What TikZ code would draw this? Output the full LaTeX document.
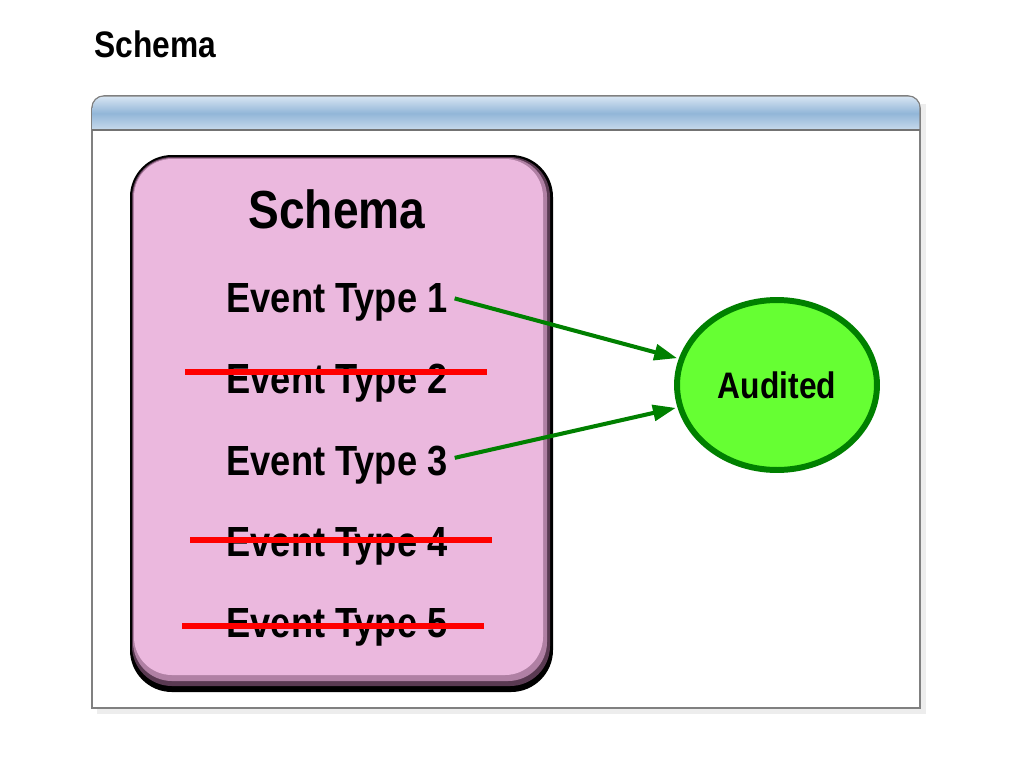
\documentclass[tikz,border=0pt]{standalone}
\usepackage{fontspec}
\setmainfont{Liberation Sans}[FakeStretch=0.86]
\usetikzlibrary{shapes.geometric,arrows.meta}

\definecolor{boxpink}{RGB}{235,184,222}
\definecolor{boxmid}{RGB}{176,128,164}
\definecolor{boxdark}{RGB}{90,58,82}
\definecolor{bartop}{RGB}{214,228,242}
\definecolor{barmid}{RGB}{146,182,216}
\definecolor{barbot}{RGB}{200,218,236}
\definecolor{linkgreen}{RGB}{0,128,0}
\definecolor{audfill}{RGB}{102,255,51}

\begin{document}
\begin{tikzpicture}[x=0.02cm,y=-0.02cm,
  evt/.style={font=\bfseries\fontsize{24}{28}\selectfont, anchor=base, inner sep=0pt},
  strike/.style={draw=red, line width=3.4pt},
  link/.style={draw=linkgreen, line width=2.3pt, shorten <=4pt, shorten >=1pt,
    -{Triangle[length=13pt,width=9pt]}}]
\useasboundingbox (0,0) rectangle (1024,768);

% title
\node [anchor=base west, inner sep=0pt, font=\bfseries\fontsize{21}{25}\selectfont] (title) at (94,57) {Schema};

% window
\fill [black!7] (97,104) rectangle (926,714);
\fill [white, draw=black!50, line width=0.9pt] (92,708) -- (92,108) arc [start angle=180, end angle=270, radius=12]
  -- (908,96) arc [start angle=270, end angle=360, radius=12] -- (920,708) -- cycle;
\shade [top color=bartop, bottom color=barbot, middle color=barmid] (92.6,130) -- (92.6,108) arc [start angle=180, end angle=270, radius=11.4]
  -- (908,96.6) arc [start angle=270, end angle=360, radius=11.4] -- (919.4,130) -- cycle;
\draw [black!55, line width=0.8pt] (92,130) -- (920,130);

% schema box
\fill [black, rounded corners=0.84cm] (130,155) rectangle (553,692);
\fill [boxdark, rounded corners=0.8cm] (132,157) rectangle (550,686);
\fill [boxmid, rounded corners=0.78cm] (133,158) rectangle (547,681);
\fill [boxpink, rounded corners=0.76cm] (134,159) rectangle (543,675);

\node [anchor=base, inner sep=0pt, font=\bfseries\fontsize{30.5}{36}\selectfont] (head) at (337,228) {Schema};
\node [evt] (ev1) at (337,312) {Event Type 1};
\node [evt] (ev2) at (337,393) {Event Type 2};
\node [evt] (ev3) at (337,475) {Event Type 3};
\node [evt] (ev4) at (337,556) {Event Type 4};
\node [evt] (ev5) at (337,637) {Event Type 5};

\draw [strike] (185,372) -- (487,372);
\draw [strike] (190,540) -- (492,540);
\draw [strike] (182,626) -- (484,626);

% audited
\node [ellipse, draw=linkgreen, fill=audfill, line width=3.4pt, minimum width=4cm, minimum height=3.4cm,
  font=\bfseries\fontsize{21}{25}\selectfont] (aud) at (777,385) {Audited};

\draw [link] ([yshift=3pt]ev1.east) -- (aud);
\draw [link] ([yshift=3pt]ev3.east) -- (aud);
\end{tikzpicture}
\end{document}
